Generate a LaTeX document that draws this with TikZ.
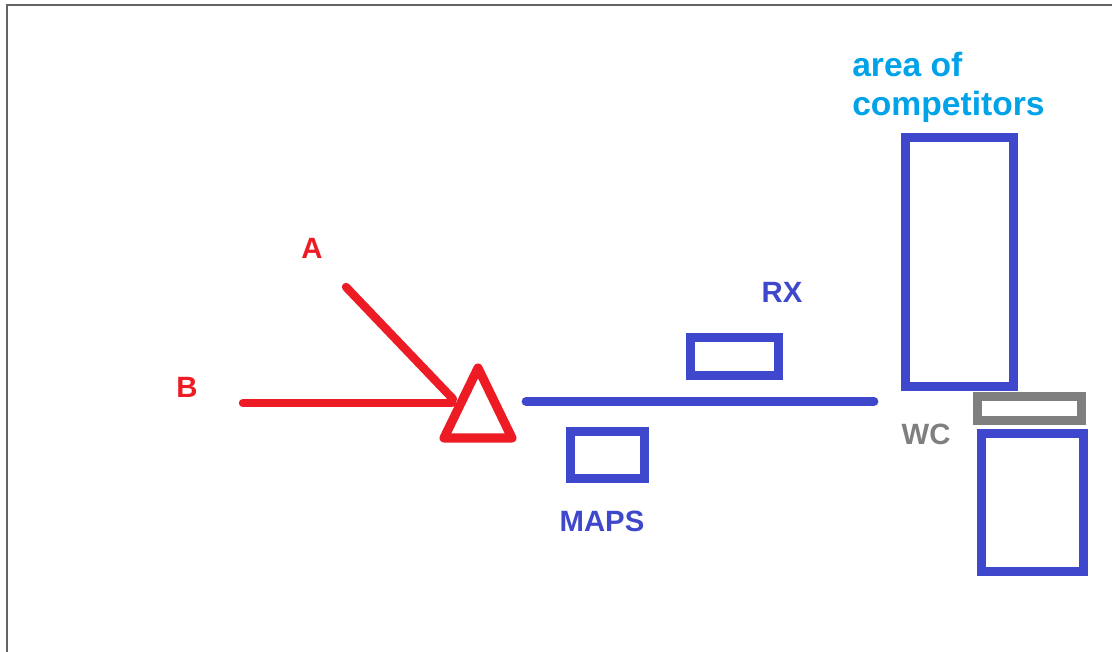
\documentclass[tikz,border=0pt]{standalone}
\usepackage{fontspec}
\setmainfont{Liberation Sans}
\usepackage{tikz}
\definecolor{paintred}{RGB}{237,28,36}
\definecolor{paintblue}{RGB}{63,72,204}
\definecolor{paintgray}{RGB}{127,127,127}
\definecolor{paintcyan}{RGB}{0,162,232}
\definecolor{framegray}{RGB}{100,100,100}

\begin{document}
\begin{tikzpicture}[x=0.75pt,y=-0.75pt,
    lbl/.style={inner sep=0pt, font=\fontsize{22}{26}\selectfont\bfseries},
    box/.style={line width=6.5pt}]
  \useasboundingbox (0,0) rectangle (1112,652);
  \draw[framegray, line width=1.2pt] (7,652) -- (7,5) -- (1112,5);

  % incoming lines and the triangle
  \draw[paintred, line width=6.3pt, line cap=round] (346,287) -- (453,399);
  \draw[paintred, line width=6.3pt, line cap=round] (243,403) -- (452,403);
  \draw[paintred, line width=6.8pt, line join=round] (478,368) -- (512,438) -- (444,438) -- cycle;
  \node[lbl, paintred] (labA) at (312,248) {A};
  \node[lbl, paintred] (labB) at (187,387) {B};

  % the line with its boxes
  \draw[paintblue, line width=6.6pt, line cap=round] (526,401.5) -- (874,401.5);
  \draw[paintblue, box] (690.3,337.3) rectangle (778.7,375.7);
  \draw[paintblue, box] (570.3,431.3) rectangle (644.7,478.7);
  \node[lbl, paintblue] (labRX) at (782,292) {RX};
  \node[lbl, paintblue] (labMAPS) at (602,521) {MAPS};

  % area of competitors
  \draw[paintblue, box] (905.3,137.3) rectangle (1013.7,386.7);
  \draw[paintgray, box] (977.3,396.3) rectangle (1081.7,420.7);
  \draw[paintblue, box] (981.3,433.3) rectangle (1083.7,571.7);
  \node[lbl, paintgray] (labWC) at (926,434.5) {WC};
  \node[lbl, paintcyan, anchor=base west, font=\fontsize{25.2}{29}\selectfont\bfseries] (labArea) at (852,77) {area of};
  \node[lbl, paintcyan, anchor=base west, font=\fontsize{25.2}{29}\selectfont\bfseries] (labCompetitors) at (852,116) {competitors};
\end{tikzpicture}
\end{document}
